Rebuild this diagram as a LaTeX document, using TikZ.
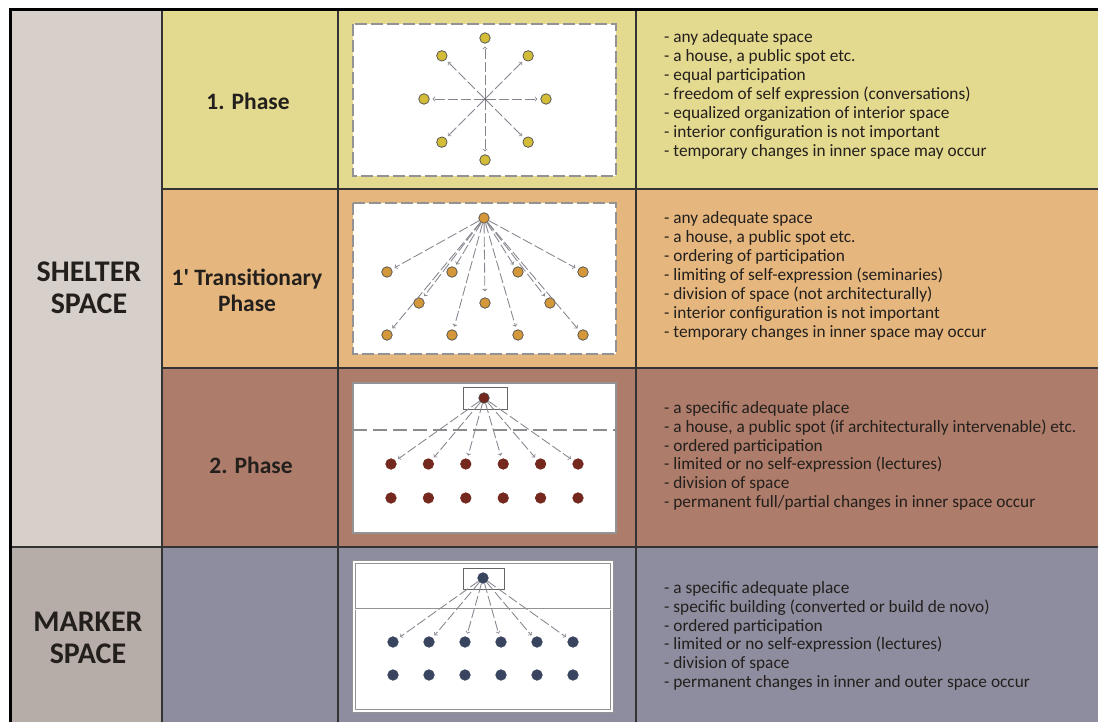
\documentclass[tikz,border=0pt]{standalone}
\usepackage{fontspec}
\setmainfont{Carlito}
\usetikzlibrary{positioning}

\definecolor{shelterbg}{HTML}{D6CFCA}
\definecolor{markerbg}{HTML}{B7ADA8}
\definecolor{phaseonebg}{HTML}{E3D98F}
\definecolor{transbg}{HTML}{E5B77F}
\definecolor{phasetwobg}{HTML}{AE7C6A}
\definecolor{markrowbg}{HTML}{8E8DA0}
\definecolor{phaseonedot}{HTML}{D2BC38}
\definecolor{transdot}{HTML}{D4983A}
\definecolor{phasetwodot}{HTML}{74281E}
\definecolor{markdot}{HTML}{39445E}
\definecolor{arrowgray}{HTML}{85858F}
\definecolor{inkcol}{HTML}{231F1C}

\newcommand\notestyle{\fontsize{17.3}{18.9}\selectfont}
\newcommand\phasestyle{\fontsize{23.5}{26}\selectfont\bfseries}
\newcommand\spacestyle{\fontsize{30}{32}\selectfont\bfseries}

\tikzset{
  gridline/.style={draw=black!80, line width=1.1pt},
  frame/.style={draw=black, line width=3pt},
  panel/.style={draw=gray!85, fill=white, line width=1.4pt},
  podium/.style={draw=gray!80!black, line width=0.8pt},
  seat/.style={circle, draw=black!70, line width=0.7pt, minimum size=10.5pt, inner sep=0pt},
  hub/.style={circle, fill=black!70, minimum size=2.5pt, inner sep=0pt},
  flow/.style={->, draw=arrowgray, line width=0.85pt, dash pattern=on 10pt off 3pt, shorten >=3pt},
  notes/.style={anchor=west, align=left, text=inkcol, font=\notestyle, inner sep=0pt},
  phaselabel/.style={align=center, text=inkcol, font=\phasestyle},
  spacelabel/.style={align=center, text=inkcol, font=\spacestyle},
}

\begin{document}
\begin{tikzpicture}[x=1pt, y=-1pt]
  \useasboundingbox (0,0) rectangle (1098,722);
  % backgrounds of the rows
  \fill[shelterbg] (10,10) rectangle (162,547);
  \fill[markerbg] (10,547) rectangle (162,735);
  \fill[phaseonebg] (162,10) rectangle (1110,189);
  \fill[transbg] (162,189) rectangle (1110,368);
  \fill[phasetwobg] (162,368) rectangle (1110,547);
  \fill[markrowbg] (162,547) rectangle (1110,735);
  % grid
  \foreach \y in {189,368} \draw[gridline] (162,\y) -- (1110,\y);
  \draw[gridline] (10,547) -- (1110,547);
  \foreach \x in {162,338,636} \draw[gridline] (\x,10) -- (\x,735);
  \draw[frame] (10,735) -- (10,10) -- (1110,10);

  \node[spacelabel] (shelter) at (89,288) {SHELTER\\SPACE};
  \node[spacelabel] (marker) at (88,638) {MARKER\\SPACE};
  \node[phaselabel] (phaseone) at (248,101) {1. Phase};
  \node[phaselabel] (phasetrans) at (247,290) {1\textquotesingle{} Transitionary\\Phase};
  \node[phaselabel] (phasetwo) at (251,465) {2. Phase};

  % 1. phase
  \draw[panel, dash pattern=on 12pt off 4pt] (353,24) rectangle (616,176);
  \node[hub] (onehub) at (485,99) {};
  \foreach \a [count=\i] in {90,45,0,-45,-90,-135,180,135}
    \node[seat, fill=phaseonedot] (one\i) at ([shift={(\a:61)}]onehub) {};
  \foreach \i in {1,...,8} \draw[flow] (onehub) -- (one\i);

  % 1' transitionary phase
  \draw[panel, dash pattern=on 12pt off 4pt] (353,203) rectangle (616,354);
  \node[seat, fill=transdot] (transsrc) at (484,218) {};
  \foreach \x [count=\i] in {387,452,518,583} {
    \node[seat, fill=transdot] (transa\i) at (\x,272) {};
    \node[seat, fill=transdot] (transc\i) at (\x,335) {};
  }
  \foreach \x [count=\i] in {419,485,550}
    \node[seat, fill=transdot] (transb\i) at (\x,303) {};
  \foreach \n in {transa1,transa2,transa3,transa4,transb1,transb3,transc1,transc2,transc3,transc4}
    \draw[flow] (transsrc) -- (\n);
  \draw[flow, shorten >=6pt] (transsrc) -- (transb2);

  % 2. phase
  \draw[panel] (353,383) rectangle (616,533);
  \draw[podium] (463,387) rectangle (507,409);
  \draw[draw=gray!90, line width=1.2pt, dash pattern=on 14pt off 6pt] (353,430) -- (616,430);
  \node[seat, fill=phasetwodot] (twosrc) at (484,398) {};
  \foreach \i in {1,...,6} {
    \node[seat, fill=phasetwodot, draw=phasetwodot] (twoa\i) at ({353.6+37.4*\i},464) {};
    \node[seat, fill=phasetwodot, draw=phasetwodot] (twob\i) at ({353.6+37.4*\i},498) {};
    \draw[flow] (twosrc) -- (twoa\i);
  }

  % marker space
  \draw[panel, double=white, double distance=1.6pt, line width=0.8pt] (354,562) rectangle (612,711);
  \draw[draw=gray!85, double=white, double distance=1pt, line width=0.6pt] (355,609) -- (611,609);
  \draw[podium] (463,568) rectangle (504,589);
  \node[seat, fill=markdot, draw=markdot] (marksrc) at (483,578) {};
  \foreach \i in {1,...,6} {
    \node[seat, fill=markdot, draw=markdot] (marka\i) at ({357+36*\i},642) {};
    \node[seat, fill=markdot, draw=markdot] (markb\i) at ({357+36*\i},675) {};
    \draw[flow] (marksrc) -- (marka\i);
  }

  % notes
  \node[notes] (onenotes) at (664,95) {- any adequate space\\
    - a house, a public spot etc.\\
    - equal participation\\
    - freedom of self expression (conversations)\\
    - equalized organization of interior space\\
    - interior configuration is not important\\
    - temporary changes in inner space may occur};
  \node[notes] (transnotes) at (664,276) {- any adequate space\\
    - a house, a public spot etc.\\
    - ordering of participation\\
    - limiting of self-expression (seminaries)\\
    - division of space (not architecturally)\\
    - interior configuration is not important\\
    - temporary changes in inner space may occur};
  \node[notes] (twonotes) at (664,456) {- a specific adequate place\\
    - a house, a public spot (if architecturally intervenable) etc.\\
    - ordered participation\\
    - limited or no self-expression (lectures)\\
    - division of space\\
    - permanent full/partial changes in inner space occur};
  \node[notes] (marknotes) at (664,636) {- a specific adequate place\\
    - specific building (converted or build de novo)\\
    - ordered participation\\
    - limited or no self-expression (lectures)\\
    - division of space\\
    - permanent changes in inner and outer space occur};
\end{tikzpicture}
\end{document}
